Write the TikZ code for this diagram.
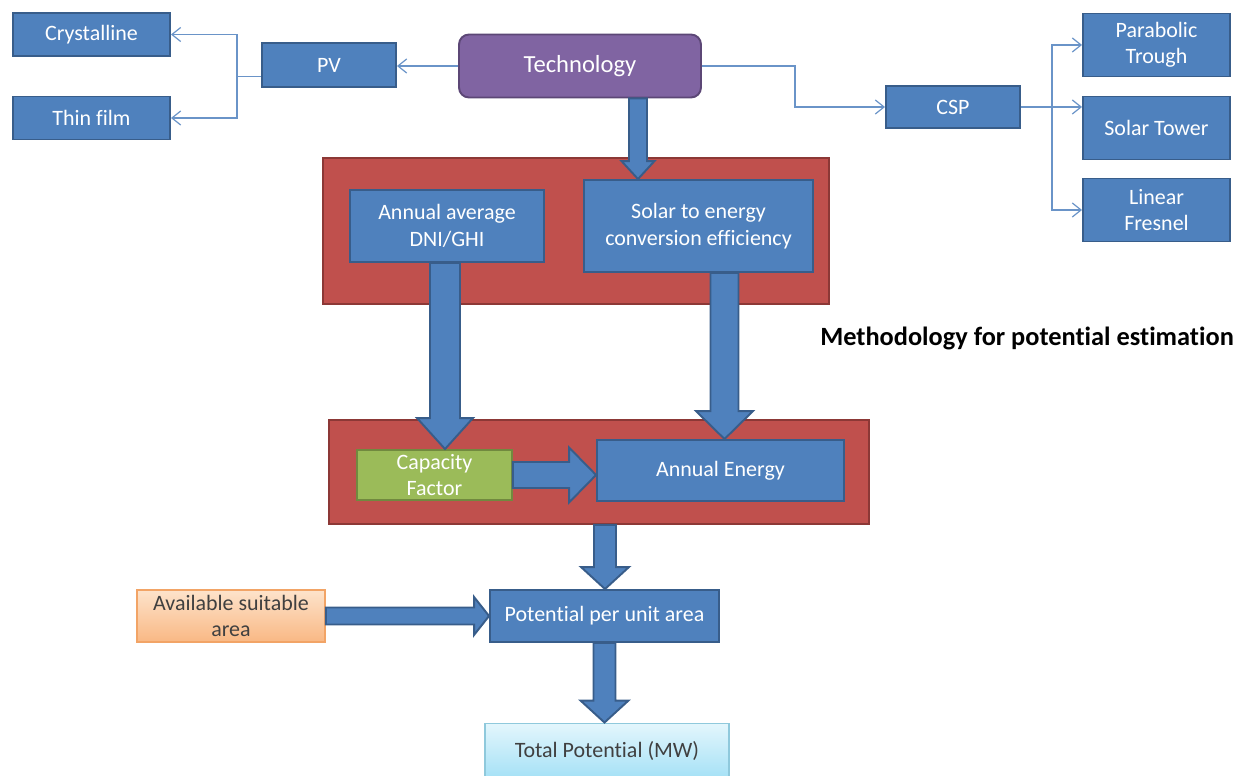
\documentclass[tikz,border=0pt]{standalone}
\usepackage{fontspec}
\setmainfont[Ligatures=NoCommon]{Carlito}
\usetikzlibrary{arrows.meta, calc}

\definecolor{boxblue}{HTML}{4F81BD}
\definecolor{boxline}{HTML}{385D8A}
\definecolor{redfill}{HTML}{C0504D}
\definecolor{redline}{HTML}{8C3836}
\definecolor{techfill}{HTML}{8064A2}
\definecolor{techline}{HTML}{5C4776}
\definecolor{cffill}{HTML}{9BBB59}
\definecolor{cfline}{HTML}{71893F}
\definecolor{linkblue}{HTML}{6A94C8}
\definecolor{areatop}{HTML}{FDE3CB}
\definecolor{areabot}{HTML}{F9B884}
\definecolor{arealine}{HTML}{F2A466}
\definecolor{totaltop}{HTML}{E3F6FC}
\definecolor{totalbot}{HTML}{A5E1F6}
\definecolor{totalline}{HTML}{8FC9DC}

% block arrows: start, end, shaft half width, head half width, head length (px)
\newcommand{\fatdown}[5]{%
  \draw[fat] ($(#1)+(-#3,0)$) -- ($(#1 |- #2)+(-#3,-#5)$) -- ($(#1 |- #2)+(-#4,-#5)$)
    -- (#1 |- #2) -- ($(#1 |- #2)+(#4,-#5)$) -- ($(#1 |- #2)+(#3,-#5)$) -- ($(#1)+(#3,0)$) -- cycle;}
\newcommand{\fatright}[5]{%
  \draw[fat] ($(#1)+(0,-#3)$) -- ($(#2 |- #1)+(-#5,-#3)$) -- ($(#2 |- #1)+(-#5,-#4)$)
    -- (#2 |- #1) -- ($(#2 |- #1)+(-#5,#4)$) -- ($(#2 |- #1)+(-#5,#3)$) -- ($(#1)+(0,#3)$) -- cycle;}

\begin{document}
\begin{tikzpicture}[
    x=0.02cm, y=-0.02cm,
    box/.style={rectangle, draw=boxline, fill=boxblue, line width=1.1pt, text=white, align=center, inner sep=2pt},
    leaf/.style={box, minimum width=2.94cm, minimum height=1.26cm},
    frame/.style={rectangle, draw=redline, fill=redfill, line width=1.1pt},
    tech/.style={rectangle, rounded corners=0.2cm, draw=techline, fill=techfill, line width=1.1pt, text=white,
      minimum width=4.84cm, minimum height=1.26cm, font=\fontsize{14}{16}\selectfont},
    link/.style={-{Straight Barb[length=5pt, width=8pt]}, draw=linkblue, line width=0.7pt},
    fat/.style={draw=boxline, fill=boxblue, line width=1.1pt},
    font=\fontsize{12.5}{15}\selectfont
]
\useasboundingbox (0,0) rectangle (1249,776);

% red frames
\node[frame, minimum width=10.12cm, minimum height=2.92cm] (upper) at (576,231) {};
\node[frame, minimum width=10.8cm, minimum height=2.08cm] (lower) at (599,472) {};

% technology branch
\node[tech] (tech) at (580,66) {Technology};
\node[box, minimum width=2.68cm, minimum height=0.88cm] (pv) at (329,65) {PV};
\node[box, minimum width=3.14cm, minimum height=0.86cm] (cryst) at (91.5,34.5) {Crystalline};
\node[box, minimum width=3.14cm, minimum height=0.86cm] (thin) at (91.5,118) {Thin film};
\node[box, minimum width=2.68cm, minimum height=0.84cm] (csp) at (953,107) {CSP};
\node[leaf] (trough) at (1156.5,45) {Parabolic\\Trough};
\node[leaf] (tower) at (1156.5,128) {Solar Tower};
\node[leaf] (fresnel) at (1156.5,210) {Linear\\Fresnel};

\draw[link] (tech.west) -- (tech.west -| pv.east);
\coordinate (pvbus) at (237,76.5);
\draw[link] (pv.west |- pvbus) -- (pvbus) |- (cryst.east);
\draw[link] (pvbus) |- (thin.east);
\draw[link] (tech.east) -- ++(93,0) |- (csp.west);
\coordinate (cspbus) at (1052,107);
\draw[link] (csp.east) -- (tower.west |- csp.east);
\draw[link] (cspbus) |- (trough.west);
\draw[link] (cspbus) |- (fresnel.west);

% inputs
\node[box, minimum width=3.88cm, minimum height=1.44cm] (dni) at (447,226) {Annual average\\DNI/GHI};
\node[box, minimum width=4.58cm, minimum height=1.84cm] (solar) at (698.5,226) {Solar to energy\\conversion efficiency};
\node[box, fill=cffill, draw=cfline, minimum width=3.1cm, minimum height=1.0cm] (cf) at (434.5,475) {Capacity\\Factor};
\node[box, minimum width=4.94cm, minimum height=1.22cm] (ae) at (720.5,470.5) {Annual Energy};

% outputs
\node[box, minimum width=4.58cm, minimum height=1.04cm] (pot) at (604.5,616) {Potential per unit area};
\node[box, top color=areatop, bottom color=areabot, draw=arealine, text=black!75, minimum width=3.76cm, minimum height=1.04cm] (avail) at (231,616) {Available suitable\\area};
\node[box, top color=totaltop, bottom color=totalbot, draw=totalline, text=black!75, minimum width=4.88cm, minimum height=1.1cm] (total) at (607,751) {Total Potential (MW)};

\node[font=\bfseries\fontsize{15}{18}\selectfont] (title) at (1027,338) {Methodology for potential estimation};

% block arrows
\coordinate (techout) at ([xshift=1.16cm]tech.south);
\fatdown{techout}{solar.north}{9}{16.5}{18}
\coordinate (dniout) at ([xshift=-0.04cm]dni.south);
\fatdown{dniout}{cf.north}{15}{28}{31}
\coordinate (solarout) at ([xshift=0.52cm]solar.south);
\fatdown{solarout}{ae.north}{14}{28.5}{28}
\fatright{cf.east}{ae.west}{13}{27.5}{27}
\coordinate (lowerout) at ([xshift=0.12cm]lower.south);
\fatdown{lowerout}{pot.north}{11}{24}{22}
\fatright{avail.east}{pot.west}{8.5}{19}{15}
\fatdown{pot.south}{total.north}{11}{24}{22}

\end{tikzpicture}
\end{document}
